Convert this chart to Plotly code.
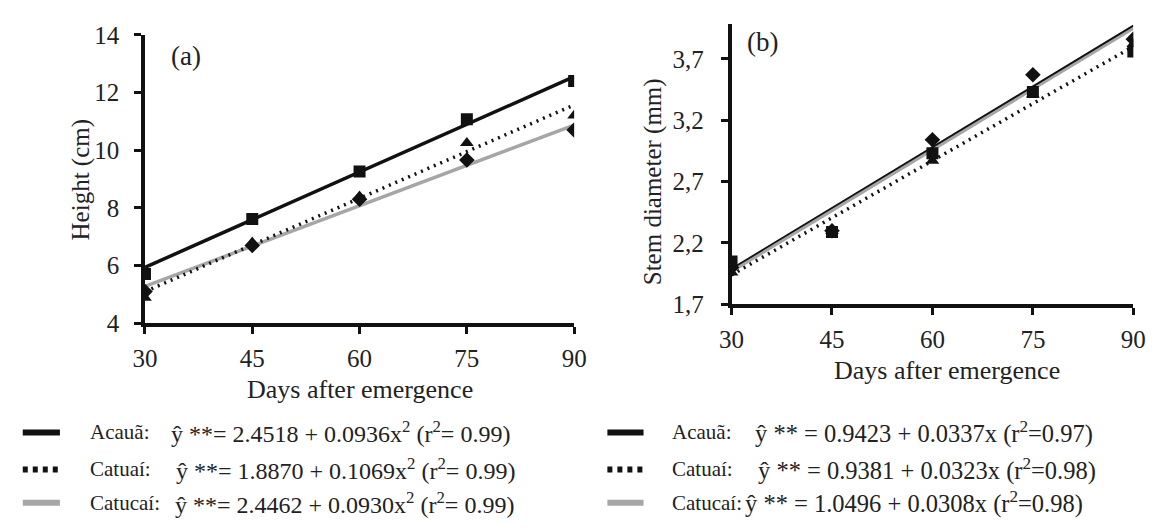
import plotly.graph_objects as go

# ---------------- data ----------------
days = [30, 45, 60, 75, 90]
line_x = [30, 90]

# (a) Height (cm) - observed
h_acaua = [5.71, 7.62, 9.26, 11.07, 12.40]
h_catuai = [4.89, 6.80, 8.40, 10.25, 11.20]
h_catucai = [5.10, 6.70, 8.30, 9.66, 10.70]
# (a) fitted lines (read at 30 and 90)
hf_acaua = [5.94, 12.55]
hf_catuai = [5.10, 11.57]
hf_catucai = [5.28, 10.87]

# (b) Stem diameter (mm) - observed
d_acaua = [2.05, 2.29, 2.93, 3.43, 3.76]
d_catuai = [1.96, 2.30, 2.87, 3.41, 3.82]
d_catucai = [2.00, 2.30, 3.04, 3.57, 3.86]
# (b) fitted lines
df_acaua = [1.99, 3.97]
df_catuai = [1.94, 3.80]
df_catucai = [1.97, 3.95]

y_a_ticks = [4, 6, 8, 10, 12, 14]
y_b_ticks = [1.7, 2.2, 2.7, 3.2, 3.7]
y_b_labels = ["1,7", "2,2", "2,7", "3,2", "3,7"]
x_ticks = [30, 45, 60, 75, 90]

names = ["Acauã:", "Catuaí:", "Catucaí:"]
eq_a = ["ŷ **= 2.4518 + 0.0936x<sup>2</sup> (r<sup>2</sup>= 0.99)",
        "ŷ **= 1.8870 + 0.1069x<sup>2</sup> (r<sup>2</sup>= 0.99)",
        "ŷ **= 2.4462 + 0.0930x<sup>2</sup> (r<sup>2</sup>= 0.99)"]
eq_b = ["ŷ ** = 0.9423 + 0.0337x (r<sup>2</sup>=0.97)",
        "ŷ ** = 0.9381 + 0.0323x (r<sup>2</sup>=0.98)",
        "ŷ ** = 1.0496 + 0.0308x (r<sup>2</sup>=0.98)"]

FONT = "'Liberation Serif', 'Times New Roman', Tinos, serif"
TXT = "#222222"
GREY = "#a6a6a6"
W, H = 1161, 530

fig = go.Figure()

def add_panel(xa, ya, fa, fb, fc, oa, ob, oc, widths):
    fig.add_trace(go.Scatter(x=line_x, y=fc, mode="lines", xaxis=xa, yaxis=ya,
                             line=dict(color=GREY, width=widths[2]), showlegend=False))
    fig.add_trace(go.Scatter(x=line_x, y=fb, mode="lines", xaxis=xa, yaxis=ya,
                             line=dict(color="#111111", width=3.5, dash="2px,5px"), showlegend=False))
    fig.add_trace(go.Scatter(x=line_x, y=fa, mode="lines", xaxis=xa, yaxis=ya,
                             line=dict(color="#111111", width=widths[0]), showlegend=False))
    fig.add_trace(go.Scatter(x=days, y=oc, mode="markers", xaxis=xa, yaxis=ya,
                             marker=dict(symbol="diamond", size=12, color="#111111"), showlegend=False))
    fig.add_trace(go.Scatter(x=days, y=ob, mode="markers", xaxis=xa, yaxis=ya,
                             marker=dict(symbol="triangle-up", size=12, color="#111111"), showlegend=False))
    fig.add_trace(go.Scatter(x=days, y=oa, mode="markers", xaxis=xa, yaxis=ya,
                             marker=dict(symbol="square", size=12, color="#111111"), showlegend=False))

add_panel("x", "y", hf_acaua, hf_catuai, hf_catucai, h_acaua, h_catuai, h_catucai, [3.5, 3.5, 3.5])
add_panel("x2", "y2", df_acaua, df_catuai, df_catucai, d_acaua, d_catuai, d_catucai, [1.8, 3.5, 3.5])

axis_common = dict(showline=True, linecolor="#111111", linewidth=3.5, ticks="outside",
                   tickcolor="#111111", tickwidth=3, ticklen=7, showgrid=False, zeroline=False,
                   tickfont=dict(family=FONT, size=25, color=TXT))

def px_x(p):
    return p / W

def px_y(p):
    return 1 - p / H

fig.update_layout(
    width=W, height=H, margin=dict(l=0, r=0, t=0, b=0),
    paper_bgcolor="white", plot_bgcolor="white", showlegend=False,
    font=dict(family=FONT, size=24, color=TXT),
    xaxis=dict(domain=[px_x(135), px_x(574)], range=[30, 90], tickvals=x_ticks,
               anchor="y", ticklabelstandoff=3, **axis_common),
    yaxis=dict(domain=[px_y(327), px_y(23)], range=[4, 14], tickvals=y_a_ticks,
               anchor="x", ticklabelstandoff=10, **axis_common),
    xaxis2=dict(domain=[px_x(735), px_x(1146)], range=[30, 90], tickvals=x_ticks,
                anchor="y2", ticklabelstandoff=3, **axis_common),
    yaxis2=dict(domain=[px_y(307), px_y(12)], range=[1.7, 3.98], tickvals=y_b_ticks,
                ticktext=y_b_labels, anchor="x2", ticklabelstandoff=12, **axis_common),
)

ann = []
def text(x, y, s, size=25, angle=0, xanchor="center"):
    ann.append(dict(x=px_x(x), y=px_y(y), xref="paper", yref="paper", text=s,
                    showarrow=False, textangle=angle, xanchor=xanchor, yanchor="middle",
                    font=dict(family=FONT, size=size, color=TXT)))

text(70, 176, "Height (cm)", size=25, angle=-90)
text(655, 178, "Stem diameter (mm)", size=25, angle=-90)
text(355, 397, "Days after emergence", size=26)
text(955, 377, "Days after emergence", size=26)
text(177, 45, "(a)", size=27)
text(767, 31, "(b)", size=27)

rows = [442, 481, 516]
left_eq_x = [160, 165, 164]
right_eq_x = [757, 760, 747]
shapes = []
styles = [dict(color="#111111", width=6), dict(color="#111111", width=6, dash="5px,5px"),
          dict(color=GREY, width=6)]
for i, yy in enumerate(rows):
    text(77, yy, names[i], size=21, xanchor="left")
    text(left_eq_x[i], yy, eq_a[i], size=24, xanchor="left")
    text(672, yy, names[i], size=21, xanchor="left")
    text(right_eq_x[i], yy, eq_b[i], size=24.5, xanchor="left")
    for x0, x1 in [(10, 48), (608, 645)]:
        shapes.append(dict(type="line", xref="paper", yref="paper",
                           x0=px_x(x0), x1=px_x(x1), y0=px_y(yy), y1=px_y(yy), line=styles[i]))

fig.update_layout(annotations=ann, shapes=shapes)
fig.write_html("out.html")
